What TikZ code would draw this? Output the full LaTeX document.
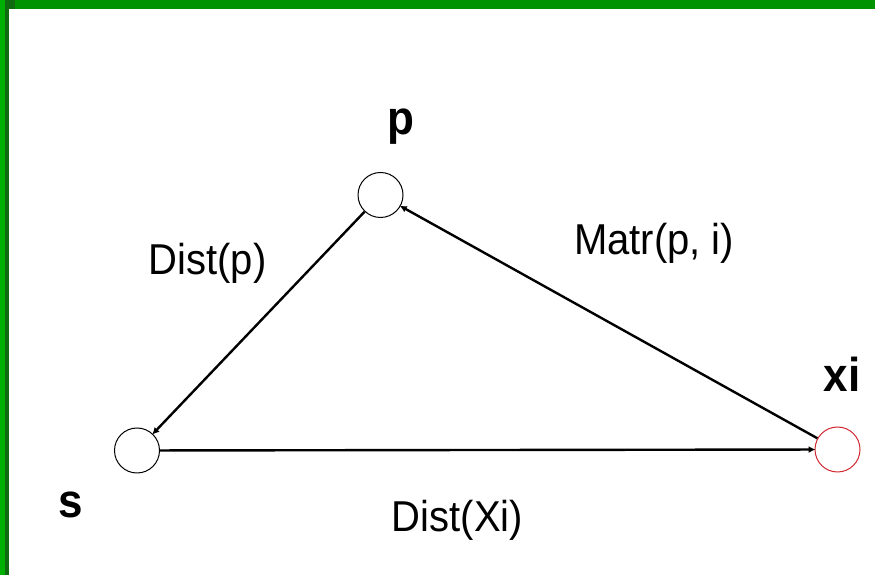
\documentclass[tikz,border=0pt]{standalone}
\usepackage{fontspec}
\setmainfont{Liberation Sans}
\usetikzlibrary{arrows.meta}
\definecolor{topgreen}{RGB}{0,146,0}
\definecolor{leftgreen}{RGB}{0,176,0}
\definecolor{darkgreen}{RGB}{16,106,16}
\definecolor{nodered}{RGB}{210,40,50}
\tikzset{
  vertex/.style={circle, draw=black, line width=1pt, minimum size=45pt, inner sep=0pt, fill=white},
  redvertex/.style={vertex, draw=nodered},
  edge/.style={line width=2.4pt, -{Latex[length=7pt,width=7pt]}, shorten >=-1pt},
  lbl/.style={anchor=base, inner sep=0pt, font=\fontsize{40}{48}\selectfont, yscale=1.08, transform shape},
  blbl/.style={anchor=base, inner sep=0pt, font=\fontsize{44}{52}\selectfont\bfseries, yscale=1.08, transform shape}
}
\begin{document}
\begin{tikzpicture}[x=1pt,y=1pt]
\useasboundingbox (0,0) rectangle (875,575);
\fill[white] (0,0) rectangle (875,575);
% border
\fill[topgreen] (0,566) rectangle (875,575);
\fill[leftgreen] (0,0) rectangle (5,575);
\fill[darkgreen] (5,0) rectangle (9,575);
\fill[darkgreen] (5,566) rectangle (15,575);
% nodes
\node[vertex] (s) at (137,124.5) {};
\node[vertex] (p) at (380.5,380) {};
\node[redvertex] (xi) at (837.5,125.5) {};
% edges
\draw[edge] (p) -- (s);
\draw[edge] (s) -- (xi);
\draw[edge] (xi) -- (p);
% labels
\node[blbl] (lp) at (401,440) {p};
\node[blbl] (lxi) at (842,183) {xi};
\node[blbl] (ls) at (70.5,57) {s};
\node[lbl] (ldp) at (207.5,300) {Dist(p)};
\node[lbl] (lm) at (654,320) {Matr(p, i)};
\node[lbl] (ldx) at (457.5,43) {Dist(Xi)};
\end{tikzpicture}
\end{document}
